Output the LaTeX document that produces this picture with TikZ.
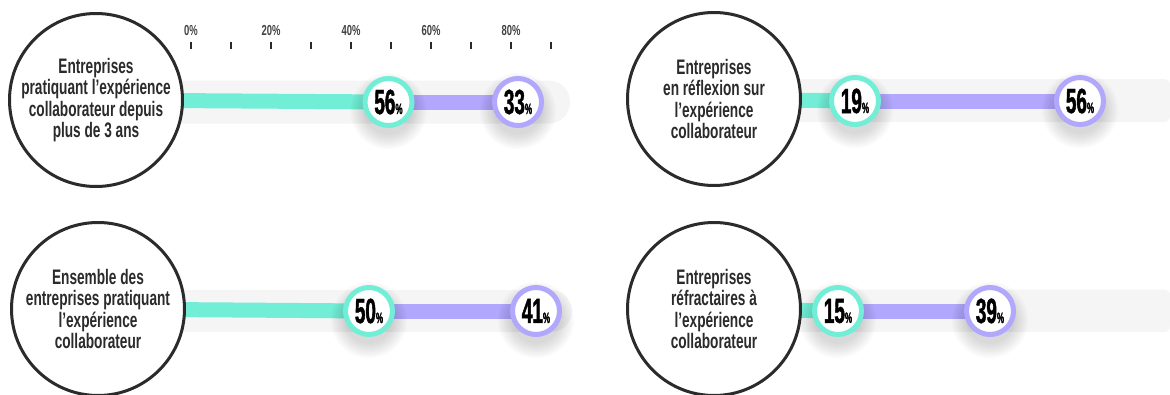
\documentclass[tikz,border=0pt]{standalone}
\usepackage{fontspec}
\newfontfamily\labfont[FakeStretch=0.65]{Liberation Sans}
\newfontfamily\valfont[FakeStretch=0.54,FakeBold=1.2]{Liberation Sans}
\usetikzlibrary{backgrounds}

\definecolor{mint}{HTML}{72EED6}
\definecolor{lilac}{HTML}{B1A7FC}
\definecolor{track}{HTML}{F5F5F5}
\definecolor{ink}{HTML}{2B2B2B}

\newcommand{\pct}[1]{{\valfont\bfseries\fontsize{35}{35}\selectfont #1}{\valfont\bfseries\fontsize{15}{15}\selectfont\%}}

\begin{document}
\begin{tikzpicture}[x=1pt,y=-1pt,
  big node/.style={circle,draw=ink,line width=3pt,fill=white,minimum size=173pt,inner sep=0pt,
    align=center,text=ink,font=\labfont\bfseries\fontsize{21}{21.5}\selectfont},
  val node/.style={circle,fill=white,line width=5pt,minimum size=47pt,inner sep=0pt},
  mint bar/.style={draw=mint,line width=15pt},
  lilac bar/.style={draw=lilac,line width=15pt},
  track bar/.style={fill=track},
  soft shadow/.style={fill=black,opacity=0.02}]

  \useasboundingbox (0,0) rectangle (1170,394);

  % axis
  \foreach \i in {0,...,9}
    \draw[ink,line width=1.5pt] ({191+40*\i},42) -- ++(0,7);
  \foreach \i/\t in {0/0,2/20,4/40,6/60,8/80}
    \node[text=ink!90,font=\labfont\bfseries\fontsize{14.5}{15}\selectfont] (ax\i) at ({191+40*\i},31) {\t\%};

  % labels
  \node[big node] (1) at (96,100) {Entreprises\\pratiquant l’expérience\\collaborateur depuis\\plus de 3 ans};
  \node[big node] (2) at (714,99) {Entreprises\\en réflexion sur\\l’expérience\\collaborateur};
  \node[big node] (3) at (98,309) {Ensemble des\\entreprises pratiquant\\l’expérience\\collaborateur};
  \node[big node] (4) at (714,309) {Entreprises\\réfractaires à\\l’expérience\\collaborateur};

  % values
  \node[val node,draw=mint] (1a) at (388.5,102) {\pct{56}};
  \node[val node,draw=lilac] (1b) at (518,102) {\pct{33}};
  \node[val node,draw=mint] (2a) at (855,101) {\pct{19}};
  \node[val node,draw=lilac] (2b) at (1080,101) {\pct{56}};
  \node[val node,draw=mint] (3a) at (369,311) {\pct{50}};
  \node[val node,draw=lilac] (3b) at (536,311) {\pct{41}};
  \node[val node,draw=mint] (4a) at (838,311) {\pct{15}};
  \node[val node,draw=lilac] (4b) at (990,311) {\pct{39}};

  \begin{scope}[on background layer]
    \path[track bar,rounded corners=21pt] (96,80.5) rectangle (570,123.5);
    \path[track bar,rounded corners=6pt] (714,79) rectangle (1170,122);
    \path[track bar,rounded corners=21pt] (98,290) rectangle (572,332);
    \path[track bar,rounded corners=6pt] (714,289.5) rectangle (1170,332);

    \path (1.center) edge[mint bar] (1a.center)
          (1a.center) edge[lilac bar] (1b.center)
          (2.center) edge[mint bar] (2a.center)
          (2a.center) edge[lilac bar] (2b.center)
          (3.center) edge[mint bar] (3a.center)
          (3a.center) edge[lilac bar] (3b.center)
          (4.center) edge[mint bar] (4a.center)
          (4a.center) edge[lilac bar] (4b.center);

    % shadows under the value circles
    \foreach \n in {1a,1b,2a,2b,3a,3b,4a,4b}
      \foreach \r in {24,26,...,38}
        \fill[soft shadow] ([yshift=-9pt]\n.center) circle (\r);
  \end{scope}
\end{tikzpicture}
\end{document}
